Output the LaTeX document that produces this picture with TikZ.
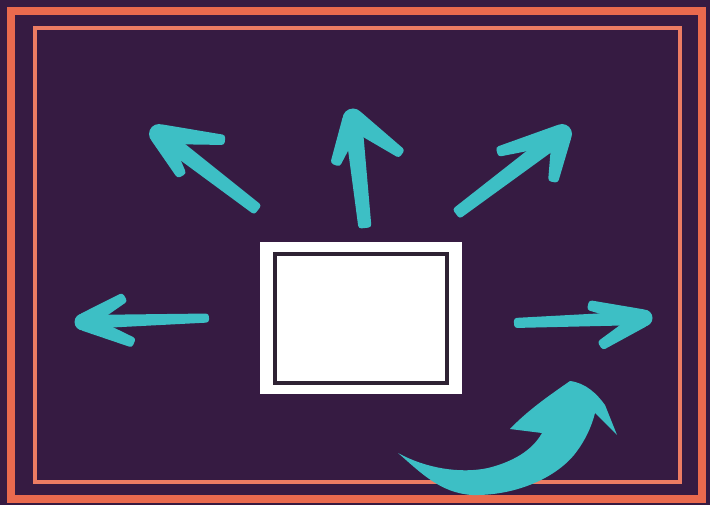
\documentclass[tikz,border=0pt]{standalone}
\usetikzlibrary{calc}
\definecolor{bgpurple}{HTML}{361B42}
\definecolor{frameorange}{HTML}{E96A4E}
\definecolor{arrowteal}{HTML}{3DBFC5}
\definecolor{boxline}{HTML}{2E2233}
\newcommand\taperstroke[4]{%
  \fill[arrowteal, rounded corners=3pt] ($(#1)!#3!90:(#2)$) -- ($(#1)!#3!-90:(#2)$)
     -- ($(#2)!#4!90:(#1)$) -- ($(#2)!#4!-90:(#1)$) -- cycle;}
\newcommand\brusharrow[6]{% tail, tip, wing1, wing2, tail half width, tip half width
  \taperstroke{#1}{#2}{#5}{#6}%
  \taperstroke{#3}{#2}{5pt}{#6+1.5pt}%
  \taperstroke{#4}{#2}{5pt}{#6+1.5pt}%
  \fill[arrowteal] (#2) circle[radius=#6+1.5pt];}
\begin{document}
\begin{tikzpicture}[x=1pt,y=-1pt]
\fill[bgpurple] (0,0) rectangle (710,505);
\useasboundingbox (0,0) rectangle (710,505);
% frames
\draw[frameorange, line width=8pt] (10.5,11) rectangle (702,498.5);
\draw[frameorange!88!white, line width=4pt] (35,28.5) rectangle (680,482);
% central box
\node[fill=white, minimum width=202pt, minimum height=152pt, inner sep=0pt, draw=none] (box) at (361,318) {};
\node[draw=boxline, line width=4pt, minimum width=172pt, minimum height=129pt, inner sep=0pt] (inner) at (361,318.5) {};
% upper-left arrow
\coordinate (ulTail) at (258,210);
\coordinate (ulTip) at (159,134);
\coordinate (ulW1) at (225,140);
\coordinate (ulW2) at (182,176);
\brusharrow{ulTail}{ulTip}{ulW1}{ulW2}{6pt}{8.5pt}
% up arrow
\coordinate (uTail) at (365,228);
\coordinate (uTip) at (353,119);
\coordinate (uW1) at (335,165);
\coordinate (uW2) at (402,154);
\brusharrow{uTail}{uTip}{uW1}{uW2}{6.5pt}{9pt}
% upper-right arrow
\coordinate (urTail) at (456,214);
\coordinate (urTip) at (562,134);
\coordinate (urW1) at (497,152);
\coordinate (urW2) at (553,182);
\brusharrow{urTail}{urTip}{urW1}{urW2}{6pt}{8.5pt}
% right arrow
\coordinate (rTail) at (514,323);
\coordinate (rTip) at (644,318);
\coordinate (rW1) at (588,305);
\coordinate (rW2) at (600,346);
\brusharrow{rTail}{rTip}{rW1}{rW2}{5pt}{7pt}
% left arrow
\coordinate (lTail) at (209,318);
\coordinate (lTip) at (83,322);
\coordinate (lW1) at (125,297);
\coordinate (lW2) at (134,343);
\brusharrow{lTail}{lTip}{lW1}{lW2}{4.5pt}{7pt}
% curved arrow
\fill[arrowteal] (398,453)
  .. controls (420,472) and (440,493) .. (472,495)
  .. controls (514,496) and (554,479) .. (574,455)
  .. controls (586,440) and (592,425) .. (595,413)
  -- (617,435) -- (605,405)
  .. controls (597,394) and (586,383) .. (570,381)
  .. controls (550,395) and (528,410) .. (510,429)
  -- (542,433)
  .. controls (532,451) and (512,462) .. (488,468)
  .. controls (460,474) and (425,468) .. (398,453) -- cycle;
\end{tikzpicture}
\end{document}
